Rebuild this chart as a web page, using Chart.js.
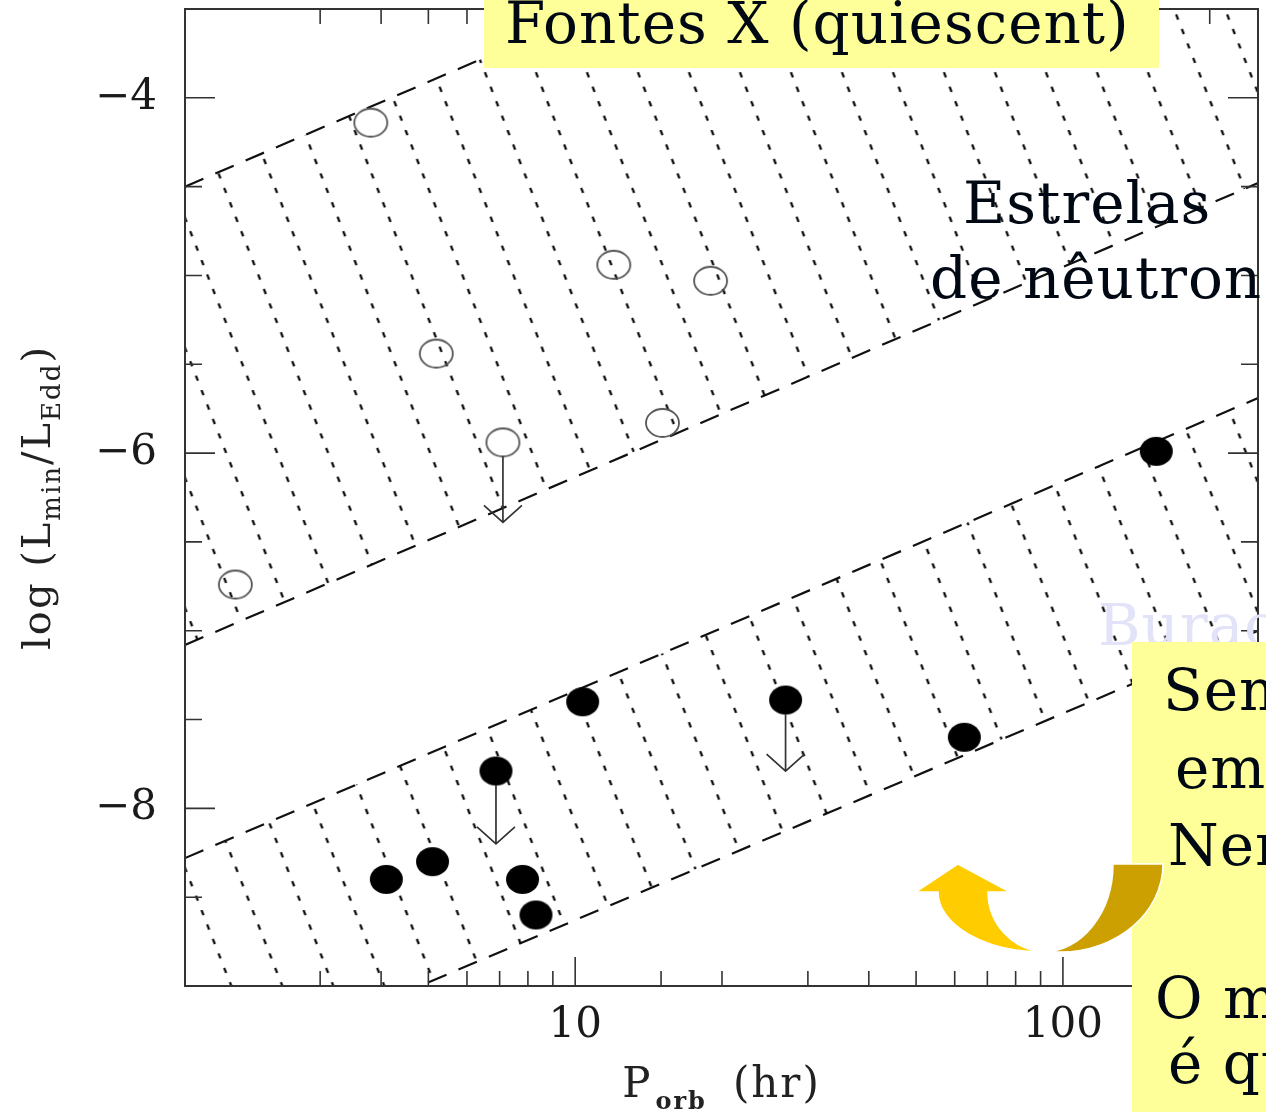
<!DOCTYPE html>
<html lang="pt">
<head>
<meta charset="utf-8">
<title>Fontes X (quiescent)</title>
<script src="https://cdn.jsdelivr.net/npm/chart.js@4.4.1/dist/chart.umd.min.js"></script>
<style>
  html, body { margin: 0; padding: 0; background: #fff; overflow: hidden; }
  #wrap { position: relative; width: 1266px; height: 1112px; overflow: hidden; }
  #chart { position: absolute; left: 0; top: 0; }
  .box { position: absolute; background: #ffff99; }
  .txt { position: absolute; font-family: 'DejaVu Serif', serif; font-size: 58px; line-height: 58px;
         letter-spacing: 1px; color: #000814; white-space: nowrap; }
  #curl { position: absolute; left: 0; top: 0; pointer-events: none; }
</style>
</head>
<body>
<div id="wrap">
  <canvas id="chart" width="1266" height="1112"></canvas>

  <div class="txt" style="left:963px; top:174px;">Estrelas</div>
  <div class="txt" style="left:930px; top:249px;">de nêutron</div>
  <div class="txt" style="left:1098px; top:596px; color:#e2e2f8;">Buracos</div>

  <div class="box" style="left:484px; top:0; width:675px; height:68px;"></div>
  <div class="txt" style="left:505px; top:-6px;">Fontes X (quiescent)</div>

  <div class="box" style="left:1132px; top:642px; width:134px; height:470px;"></div>
  <div class="txt" style="left:1163px; top:661px;">Sem</div>
  <div class="txt" style="left:1175px; top:739px;">em</div>
  <div class="txt" style="left:1168px; top:816px;">Nen</div>
  <div class="txt" style="left:1155px; top:969px;">O m</div>
  <div class="txt" style="left:1168px; top:1034px;">é qu</div>

  <svg id="curl" width="1266" height="1112">
    <path d="M1113 864 L1163 864 C1163 912.6 1116.9 952 1060 952 L1043 952 C1081.7 952 1113 912.6 1113 864 Z"
          fill="#cca000" stroke="#fff" stroke-width="1.5"/>
    <path d="M916 892 L958 864 L1010 892 L988 892 C988 924 1013 950 1043 952 C985 952 938 925 938 892 Z"
          fill="#ffcc00" stroke="#fff" stroke-width="1.5"/>
  </svg>
</div>

<script>
// axis ranges and labelled ticks
const periodRange = [10 ** 0.2, 10 ** 2.4];
const logLRange = [-9, -3.5];
const yTickLabels = [-4, -6, -8];
const xTickLabels = [10, 100];

// shaded bands (edges given at both ends of the period range)
const bandPeriod = [10 ** 0.2, 10 ** 2.4];
const nsBandUpper = [-4.50, -1.90];
const nsBandLower = [-7.08, -4.48];
const bhBandUpper = [-8.28, -5.69];
const bhBandLower = [-9.56, -7.00];

// neutron stars (open circles)
const nsPeriod = [2.01, 3.81, 5.19, 7.11, 12.0, 15.1, 18.95];
const nsLogL = [-6.74, -4.14, -5.44, -5.94, -4.94, -5.83, -5.03];
const nsLimit = [null, null, null, -6.39, null, null, null];

// black holes (filled circles)
const bhPeriod = [4.10, 5.10, 6.88, 7.80, 8.31, 10.36, 27.0, 62.8, 155.4];
const bhLogL = [-8.40, -8.30, -7.79, -8.40, -8.60, -7.40, -7.39, -7.60, -5.99];
const bhLimit = [null, null, -8.20, null, null, null, -7.79, null, null];

const toPoints = (xs, ys) => xs.map((x, i) => ({ x: x, y: ys[i] }));
const isLabel = (list, v) => list.some((t) => Math.abs(t - v) < 1e-6);

function makeHatch(ctx) {
  const w = 51, h = 130;
  const tile = document.createElement("canvas");
  tile.width = w;
  tile.height = h;
  const t = tile.getContext("2d");
  t.strokeStyle = "#000";
  t.lineWidth = 2.2;
  const period = Math.hypot(w, h) / 9;
  t.setLineDash([5.5, period - 5.5]);
  for (const ox of [-w, 0, w]) {
    t.beginPath();
    t.moveTo(ox, 0);
    t.lineTo(ox + w, h);
    t.stroke();
  }
  const pattern = ctx.createPattern(tile, "repeat");
  pattern.setTransform(new DOMMatrix().translate(-2.5, 0));
  return pattern;
}

function ellipseMarker(w, h, fill, stroke, lw) {
  const c = document.createElement("canvas");
  c.width = w + 4;
  c.height = h + 4;
  const g = c.getContext("2d");
  g.beginPath();
  g.ellipse(c.width / 2, c.height / 2, w / 2, h / 2, 0, 0, Math.PI * 2);
  if (fill) {
    g.fillStyle = fill;
    g.fill();
  }
  if (stroke) {
    g.strokeStyle = stroke;
    g.lineWidth = lw;
    g.stroke();
  }
  return c;
}

// upper-limit arrows
const limitArrows = {
  id: "limitArrows",
  afterDatasetsDraw(chart) {
    const { ctx, scales: { x, y } } = chart;
    ctx.save();
    ctx.strokeStyle = "#333";
    ctx.lineWidth = 1.7;
    const draw = (p, v, tip) => {
      const px = x.getPixelForValue(p);
      const y0 = y.getPixelForValue(v) + 14;
      const y1 = y.getPixelForValue(tip);
      ctx.beginPath();
      ctx.moveTo(px, y0);
      ctx.lineTo(px, y1);
      ctx.moveTo(px - 19, y1 - 17);
      ctx.lineTo(px, y1);
      ctx.lineTo(px + 19, y1 - 17);
      ctx.stroke();
    };
    nsLimit.forEach((tip, i) => { if (tip !== null) draw(nsPeriod[i], nsLogL[i], tip); });
    bhLimit.forEach((tip, i) => { if (tip !== null) draw(bhPeriod[i], bhLogL[i], tip); });
    ctx.restore();
  },
};

function drawParts(ctx, parts, x0, y0) {
  let total = 0;
  parts.forEach((p) => {
    ctx.font = p.font;
    total += (p.gap || 0) + ctx.measureText(p.text).width;
  });
  let cx = x0 - total / 2;
  parts.forEach((p) => {
    ctx.font = p.font;
    cx += p.gap || 0;
    ctx.fillText(p.text, cx, y0 + (p.dy || 0));
    cx += ctx.measureText(p.text).width;
  });
}

// frame, inward ticks on all four sides, axis titles with subscripts
const frameAndTitles = {
  id: "frameAndTitles",
  afterDraw(chart) {
    const { ctx, chartArea: a, scales: { x, y } } = chart;
    ctx.save();
    ctx.strokeStyle = "#333";
    ctx.lineWidth = 2;
    ctx.strokeRect(a.left, a.top, a.right - a.left, a.bottom - a.top);

    ctx.lineWidth = 1.6;
    ctx.beginPath();
    y.ticks.forEach((t) => {
      const py = y.getPixelForValue(t.value);
      const len = isLabel(yTickLabels, t.value) ? 30 : 17;
      ctx.moveTo(a.left, py);
      ctx.lineTo(a.left + len, py);
      ctx.moveTo(a.right, py);
      ctx.lineTo(a.right - len, py);
    });
    x.ticks.forEach((t) => {
      if (t.value <= x.min * 1.001 || t.value >= x.max * 0.999) return;
      const px = x.getPixelForValue(t.value);
      const len = isLabel(xTickLabels, t.value) ? 29 : 15;
      ctx.moveTo(px, a.bottom);
      ctx.lineTo(px, a.bottom - len);
      ctx.moveTo(px, a.top);
      ctx.lineTo(px, a.top + len);
    });
    ctx.stroke();

    ctx.fillStyle = "#222";
    ctx.textBaseline = "alphabetic";
    ctx.textAlign = "left";
    ctx.letterSpacing = "2px";
    drawParts(ctx, [
      { text: "P", font: "42px 'DejaVu Serif'" },
      { text: "orb", font: "bold 24px 'DejaVu Serif'", dy: 12, gap: 3 },
      { text: "(hr)", font: "42px 'DejaVu Serif'", gap: 26 },
    ], (a.left + a.right) / 2, 1097);

    ctx.translate(50, (a.top + a.bottom) / 2);
    ctx.rotate(-Math.PI / 2);
    drawParts(ctx, [
      { text: "log (L", font: "40px 'DejaVu Serif'" },
      { text: "min", font: "26px 'DejaVu Serif'", dy: 10 },
      { text: "/L", font: "40px 'DejaVu Serif'" },
      { text: "Edd", font: "26px 'DejaVu Serif'", dy: 10 },
      { text: ")", font: "40px 'DejaVu Serif'" },
    ], 0, 0);
    ctx.restore();
  },
};

const ctx = document.getElementById("chart").getContext("2d");
const hatch = makeHatch(ctx);
const edgeStyle = {
  type: "line",
  showLine: true,
  borderColor: "#111",
  borderWidth: 2.2,
  borderDash: [20, 13],
  pointRadius: 0,
  order: 2,
};

new Chart(ctx, {
  type: "scatter",
  data: {
    datasets: [
      { ...edgeStyle, label: "NS band top", data: toPoints(bandPeriod, nsBandUpper), fill: "+1", backgroundColor: hatch },
      { ...edgeStyle, label: "NS band bottom", data: toPoints(bandPeriod, nsBandLower), fill: false },
      { ...edgeStyle, label: "BH band top", data: toPoints(bandPeriod, bhBandUpper), fill: "+1", backgroundColor: hatch },
      { ...edgeStyle, label: "BH band bottom", data: toPoints(bandPeriod, bhBandLower), fill: false },
      {
        label: "Estrelas de nêutron",
        data: toPoints(nsPeriod, nsLogL),
        pointStyle: ellipseMarker(33, 28, null, "#555", 1.8),
        order: 1,
      },
      {
        label: "Buracos negros",
        data: toPoints(bhPeriod, bhLogL),
        pointStyle: ellipseMarker(33, 29, "#000", null, 0),
        order: 1,
      },
    ],
  },
  options: {
    responsive: false,
    animation: false,
    events: [],
    layout: { padding: { top: 9, right: 8, left: 0, bottom: 0 } },
    plugins: { legend: { display: false }, tooltip: { enabled: false } },
    scales: {
      x: {
        type: "logarithmic",
        min: periodRange[0],
        max: periodRange[1],
        grid: { display: false, drawTicks: false },
        border: { display: false },
        afterFit: (scale) => {
          scale.height = 126;
          scale.paddingLeft = 0;
          scale.paddingRight = 0;
        },
        ticks: {
          autoSkip: false,
          maxRotation: 0,
          padding: 15,
          color: "#1a1a1a",
          font: { family: "DejaVu Serif", size: 42 },
          callback: (v) => (isLabel(xTickLabels, v) ? String(Math.round(v)) : ""),
        },
      },
      y: {
        type: "linear",
        min: logLRange[0],
        max: logLRange[1],
        grid: { display: false, drawTicks: false },
        border: { display: false },
        afterFit: (scale) => {
          scale.width = 185;
          scale.paddingTop = 0;
          scale.paddingBottom = 0;
        },
        ticks: {
          stepSize: 0.5,
          padding: 28,
          color: "#1a1a1a",
          font: { family: "DejaVu Serif", size: 42 },
          callback: (v) => (isLabel(yTickLabels, v) ? "\u2212" + Math.abs(v) : ""),
        },
      },
    },
  },
  plugins: [limitArrows, frameAndTitles],
});
</script>
</body>
</html>
